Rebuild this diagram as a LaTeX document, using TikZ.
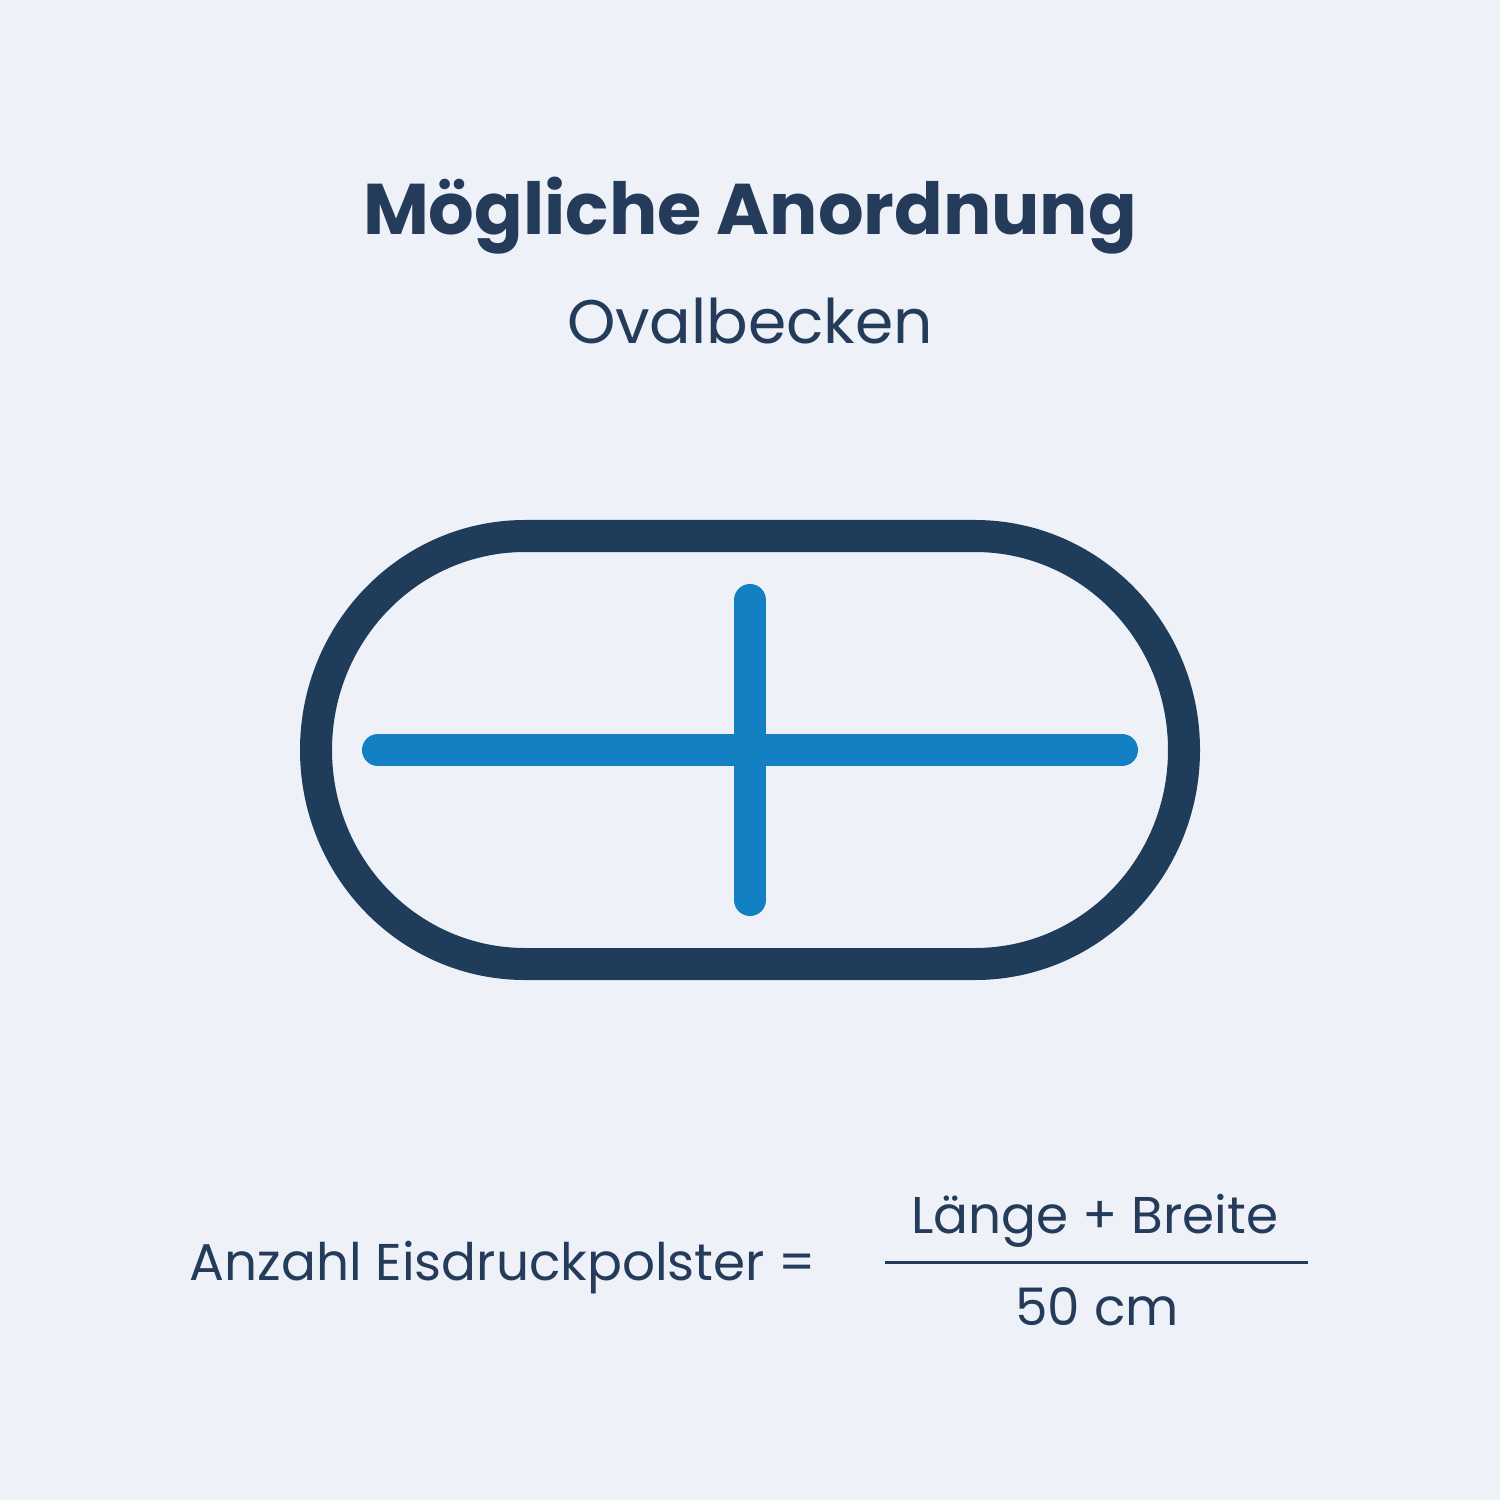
\documentclass[tikz,border=0pt]{standalone}
\usepackage{fontspec}
\setmainfont{Poppins}
\usetikzlibrary{positioning}
\definecolor{bgpale}{HTML}{EEF2F8}
\definecolor{navy}{HTML}{1F3D5A}
\definecolor{textnavy}{HTML}{243B5A}
\definecolor{poolblue}{HTML}{1480C4}
\tikzset{
  label text/.style={text=textnavy, inner sep=0pt, anchor=base},
  pool rim/.style={draw=navy, line width=0.32cm},
  pad line/.style={draw=poolblue, line width=0.32cm, line cap=round}
}

\begin{document}
\begin{tikzpicture}[x=0.01cm, y=-0.01cm]
            % Background:
            \fill [bgpale] (0,0) rectangle (1500,1500);
            \useasboundingbox (0,0) rectangle (1500,1500);

            % Headings:
            \node [label text, font=\bfseries\fontsize{20.4}{24}\selectfont] (title) at (750,235) {Mögliche Anordnung};
            \node [label text, font=\fontsize{17.5}{21}\selectfont] (subtitle) at (750,343) {Ovalbecken};

            % Oval pool:
            \draw [pool rim] (525,536) -- (975,536)
                arc [start angle=90, end angle=-90, x radius=209, y radius=-214]
                -- (525,964)
                arc [start angle=270, end angle=90, x radius=209, y radius=-214]
                -- cycle;

            % Cross of pads:
            \coordinate (west) at (378,750);
            \coordinate (east) at (1122,750);
            \coordinate (north) at (750,600);
            \coordinate (south) at (750,900);
            \draw [pad line] (west) -- (east);
            \draw [pad line] (north) -- (south);

            % Formula:
            \node [label text, font=\fontsize{14.7}{18}\selectfont] (count) at (503,1280) {Anzahl Eisdruckpolster =};
            \node [label text, font=\fontsize{14.7}{18}\selectfont] (numer) at (1095,1233) {Länge + Breite};
            \node [label text, font=\fontsize{14.7}{18}\selectfont] (denom) at (1097,1325) {50 cm};
            \coordinate (barL) at (885,1262);
            \coordinate (barR) at (1308,1262);
            \draw [textnavy, line width=0.03cm] (barL) -- (barR);
        \end{tikzpicture}
\end{document}
